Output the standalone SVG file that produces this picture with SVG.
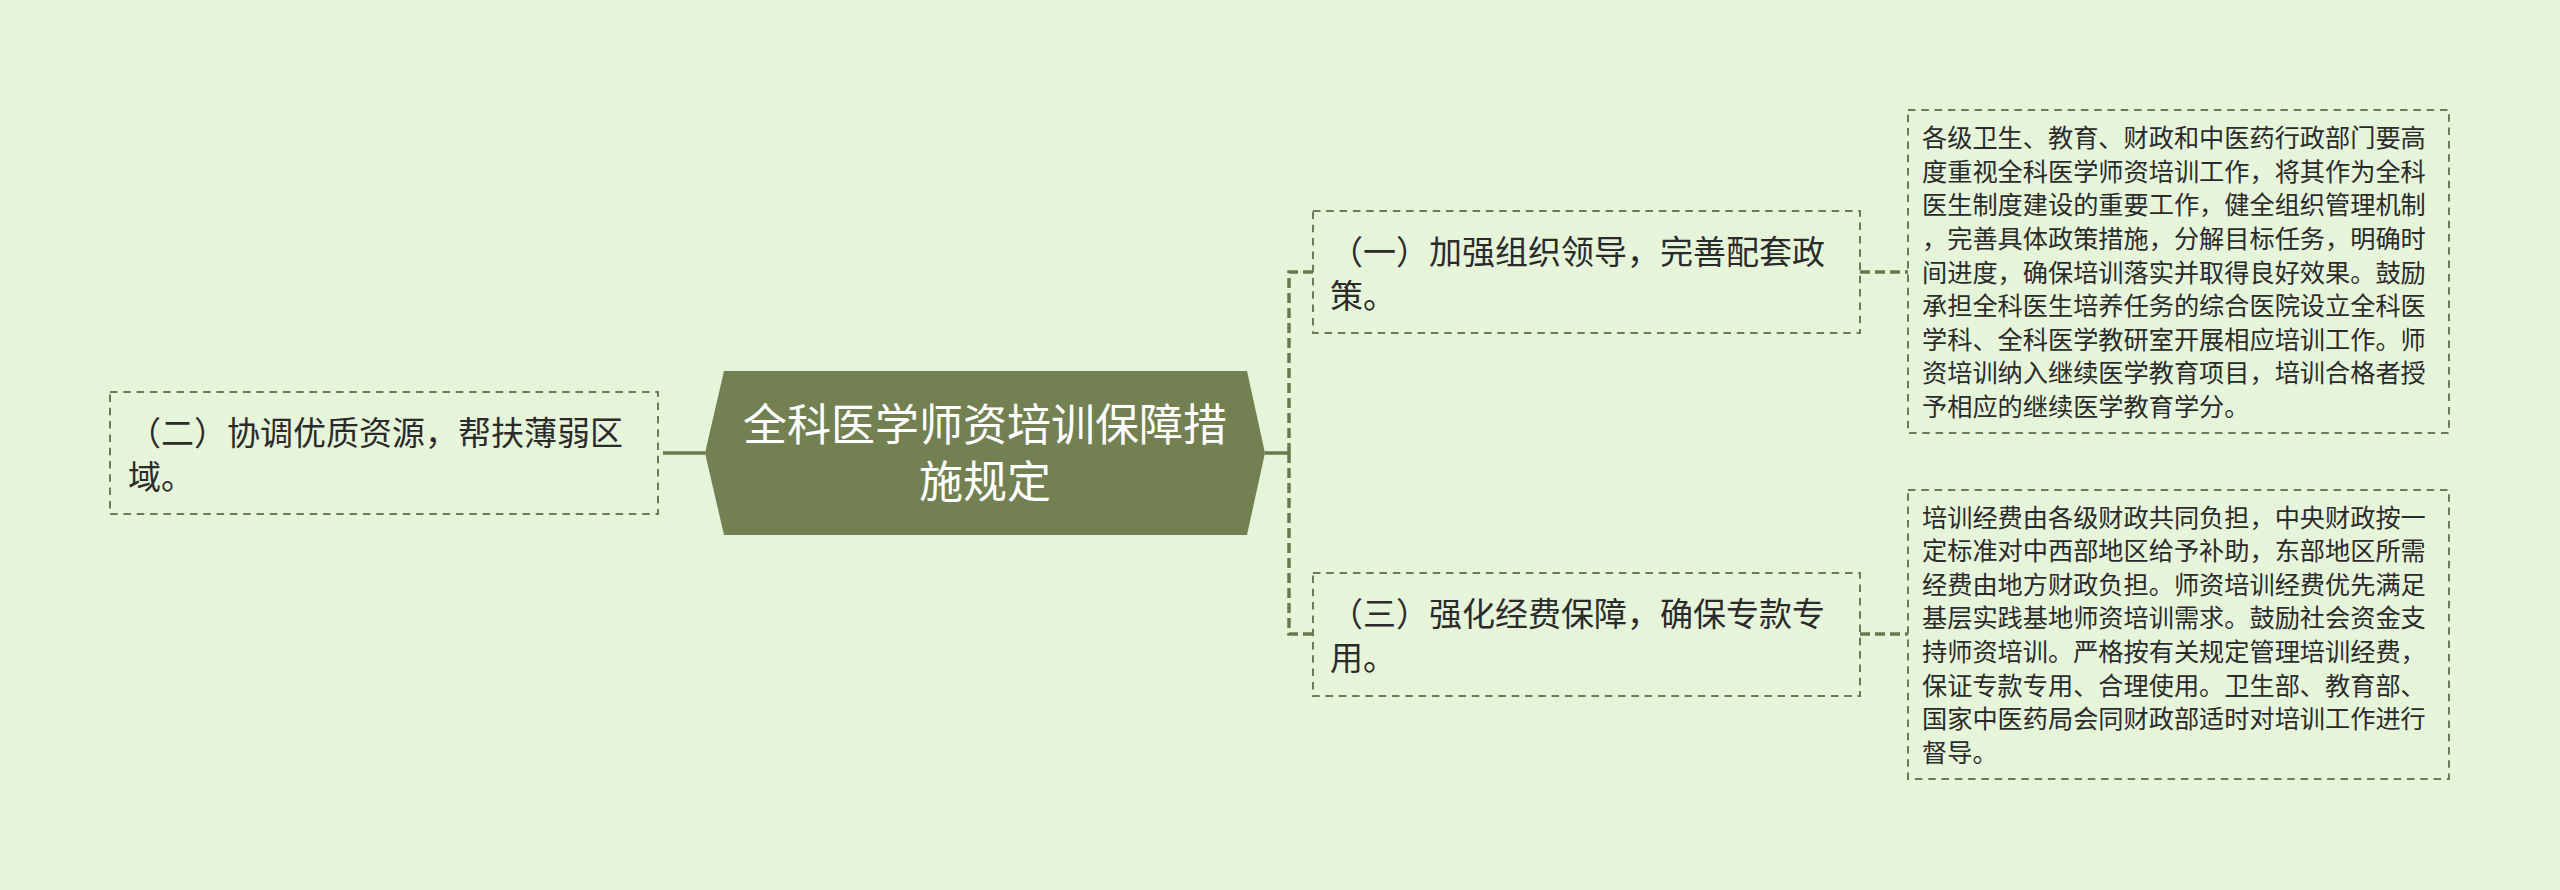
<svg xmlns="http://www.w3.org/2000/svg" width="2560" height="890" viewBox="0 0 2560 890">
<style>
.box{fill:none;stroke:#6d7a57;stroke-width:2;stroke-dasharray:7.5 5.8}
.conn{fill:none;stroke:#6a784d;stroke-width:3.5;stroke-dasharray:10 5}
.solid{fill:none;stroke:#6a784d;stroke-width:3.5}
.t{font-family:"Noto Sans CJK SC","Microsoft YaHei",sans-serif;fill:#2b2b2b}
.t1{font-size:33px}
.t2{font-size:25.2px}
.root{font-family:"Noto Sans CJK SC","Microsoft YaHei",sans-serif;font-size:44px;fill:#ffffff}
</style>
<rect x="0" y="0" width="2560" height="890" fill="#e6f4da"/>
<g id="connectors">
<path class="solid" d="M705 453 H673"/>
<path class="conn" d="M673 453 H658"/>
<path class="solid" d="M1265 453 H1289"/>
<path class="conn" d="M1289 453 V272 H1313"/>
<path class="conn" d="M1289 453 V634 H1313"/>
<path class="conn" d="M1860 272 H1908"/>
<path class="conn" d="M1860 634 H1908"/>
</g>
<g id="root">
<polygon points="724,371 1247,371 1265,453 1247,535 724,535 705,453" fill="#738152"/>
<text class="root" text-anchor="middle"><tspan x="985" y="441">全科医学师资培训保障措</tspan><tspan x="985" y="498">施规定</tspan></text>
</g>
<g id="node-2">
<rect class="box" x="110" y="392" width="548" height="122"/>
<text class="t t1"><tspan x="128" y="444.5">（二）协调优质资源，帮扶薄弱区</tspan><tspan x="128" y="488.5">域。</tspan></text>
</g>
<g id="node-1">
<rect class="box" x="1313" y="211" width="547" height="122"/>
<text class="t t1"><tspan x="1330" y="263.5">（一）加强组织领导，完善配套政</tspan><tspan x="1330" y="307.5">策。</tspan></text>
</g>
<g id="node-3">
<rect class="box" x="1313" y="573" width="547" height="123"/>
<text class="t t1"><tspan x="1330" y="625.5">（三）强化经费保障，确保专款专</tspan><tspan x="1330" y="669.5">用。</tspan></text>
</g>
<g id="detail-1">
<rect class="box" x="1908" y="110" width="541" height="323"/>
<text class="t t2">
<tspan x="1922" y="147.2">各级卫生、教育、财政和中医药行政部门要高</tspan>
<tspan x="1922" y="180.8">度重视全科医学师资培训工作，将其作为全科</tspan>
<tspan x="1922" y="214.4">医生制度建设的重要工作，健全组织管理机制</tspan>
<tspan x="1922" y="248">，完善具体政策措施，分解目标任务，明确时</tspan>
<tspan x="1922" y="281.6">间进度，确保培训落实并取得良好效果。鼓励</tspan>
<tspan x="1922" y="315.2">承担全科医生培养任务的综合医院设立全科医</tspan>
<tspan x="1922" y="348.8">学科、全科医学教研室开展相应培训工作。师</tspan>
<tspan x="1922" y="382.4">资培训纳入继续医学教育项目，培训合格者授</tspan>
<tspan x="1922" y="416">予相应的继续医学教育学分。</tspan>
</text>
</g>
<g id="detail-3">
<rect class="box" x="1908" y="490" width="541" height="289"/>
<text class="t t2">
<tspan x="1922" y="526.5">培训经费由各级财政共同负担，中央财政按一</tspan>
<tspan x="1922" y="560.1">定标准对中西部地区给予补助，东部地区所需</tspan>
<tspan x="1922" y="593.7">经费由地方财政负担。师资培训经费优先满足</tspan>
<tspan x="1922" y="627.3">基层实践基地师资培训需求。鼓励社会资金支</tspan>
<tspan x="1922" y="660.9">持师资培训。严格按有关规定管理培训经费，</tspan>
<tspan x="1922" y="694.5">保证专款专用、合理使用。卫生部、教育部、</tspan>
<tspan x="1922" y="728.1">国家中医药局会同财政部适时对培训工作进行</tspan>
<tspan x="1922" y="761.7">督导。</tspan>
</text>
</g>
</svg>
